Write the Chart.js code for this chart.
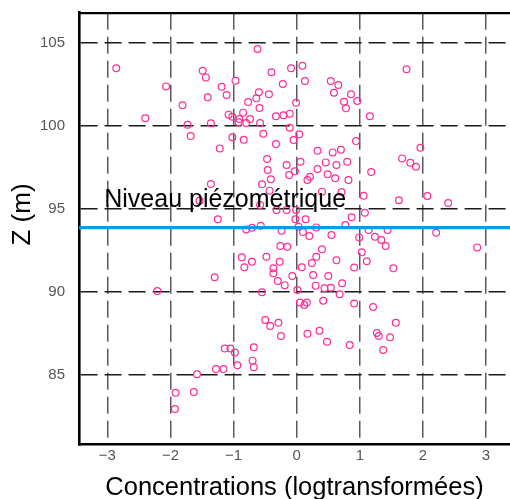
<!DOCTYPE html>
<html lang="fr">
<head>
<meta charset="utf-8">
<title>Z en fonction des concentrations</title>
<script src="https://cdn.jsdelivr.net/npm/chart.js@4/dist/chart.umd.min.js"></script>
<style>
  html, body { margin: 0; padding: 0; background: #fff; }
  #wrap { width: 510px; height: 499px; }
</style>
</head>
<body>
<div id="wrap"><canvas id="chart" width="510" height="499"></canvas></div>
<script>
// Concentrations (log-transformed) of each sample
const concentrations = [
  -2.86, -2.40, -2.07, -1.81, -1.73, -1.68, -1.49, -1.44, -1.41, -1.36,
  -1.22, -1.19, -1.11, -1.08, -1.02, -1.02, -0.97, -0.92, -0.85, -0.84,
  -0.77, -0.74, -1.36, -1.54, -1.25, -0.80, -0.71, -0.62, -0.09, -0.40,
  -0.22, -0.60, -0.44, -0.64, -0.59, -0.01, -0.91, -0.33, -0.21, -0.11,
  -0.80, -0.58, -0.11, -0.53, -0.05, -0.33, -0.47, -0.16, 0.09, 0.13,
  0.54, 0.66, 0.59, 0.86, 0.75, 0.96, 0.78, 1.16, 0.04, 0.94,
  0.33, 0.57, 0.70, 0.06, 0.46, 0.80, 0.63, 1.74, 1.96, 1.67,
  1.80, 1.89, -0.46, -0.03, 1.18, 0.21, 0.17, 0.49, 0.61, 0.82,
  0.33, -0.41, -0.43, 0.40, 0.71, 1.06, 1.62, 2.07, 2.40, 1.08,
  0.87, 0.14, -0.02, -0.57, -0.24, 0.10, 0.31, 0.20, 0.55, 0.77,
  1.14, 1.44, 1.24, 1.34, 0.99, 1.41, 2.21, 2.86, -0.26, -0.15,
  0.40, -0.12, -0.55, -0.58, -0.32, -0.16, -0.01, 0.03, -0.87, -0.48,
  -0.71, -0.83, -0.27, -0.37, -0.37, -1.30, -0.30, -0.19, -0.07, -0.55,
  0.31, 0.24, 0.26, 0.08, 0.63, 1.03, 1.11, 0.91, 0.50, 0.72,
  0.44, 0.30, 0.54, 0.01, 0.05, 0.12, 0.16, 0.42, 0.68, 0.91,
  1.21, 1.53, -0.50, -0.42, -0.29, -0.25, 0.17, 0.36, 0.48, 0.84,
  1.27, 1.30, 1.48, 1.57, 1.37, -1.14, -1.05, -0.98, -0.68, -0.94,
  -0.70, -0.68, -1.28, -1.16, -2.21, -1.58, -1.63, -1.92, -1.93
];

// Elevation Z (m) of each sample, same order
const altitudes = [
  103.45, 100.44, 102.36, 101.22, 100.05, 99.37, 103.30, 102.90, 101.70, 100.14,
  98.63, 102.34, 101.84, 100.66, 100.54, 99.30, 102.70, 100.20, 100.78, 99.15,
  101.42, 100.40, 96.49, 95.48, 94.37, 93.76, 93.86, 104.61, 103.45, 103.21,
  102.50, 102.00, 101.88, 101.64, 101.06, 101.38, 100.40, 100.56, 100.62, 100.72,
  100.16, 100.16, 99.87, 99.51, 99.13, 98.89, 97.99, 97.63, 103.60, 102.68,
  102.68, 102.44, 101.98, 101.88, 101.44, 101.48, 101.04, 100.56, 99.48, 99.07,
  98.49, 98.39, 98.55, 97.83, 97.79, 97.83, 97.63, 103.39, 98.67, 98.03,
  97.77, 97.53, 97.33, 97.25, 97.21, 96.93, 96.73, 97.07, 96.83, 96.73,
  97.39, 96.77, 96.09, 96.03, 96.01, 95.78, 95.51, 95.77, 95.35, 94.76,
  94.49, 94.37, 94.37, 93.98, 93.68, 93.60, 93.88, 93.36, 93.42, 94.02,
  93.72, 93.72, 93.32, 93.12, 93.28, 92.76, 93.56, 92.68, 92.76, 92.72,
  92.56, 97.03, 96.47, 95.23, 94.92, 94.92, 94.92, 93.92, 92.08, 92.12,
  91.82, 91.48, 91.82, 91.42, 91.12, 90.88, 90.66, 90.41, 90.96, 89.98,
  92.12, 91.74, 91.02, 91.48, 91.90, 92.38, 91.85, 91.47, 90.96, 90.52,
  90.22, 90.38, 90.25, 90.11, 89.37, 89.21, 89.37, 89.47, 89.86, 89.31,
  89.09, 91.42, 88.31, 87.95, 88.15, 87.35, 87.49, 87.67, 87.01, 86.81,
  87.53, 87.35, 87.27, 88.15, 86.51, 86.60, 86.60, 86.36, 86.67, 85.59,
  85.87, 85.48, 85.36, 85.36, 90.05, 85.05, 83.98, 83.94, 82.96
];

// Axis ticks
const xTicks = [-3, -2, -1, 0, 1, 2, 3];
const zTicks = [85, 90, 95, 100, 105];

// Water table level (m) and its caption
const niveauPiezo = 93.87;
const niveauLabel = 'Niveau piézométrique';

// Axis extents
const xMin = -3.45, xMax = 3.38;
const zMin = 80.84, zMax = 106.79;

const FONT = '"Liberation Sans", Arial, Helvetica, sans-serif';

const points = concentrations.map((c, i) => ({ x: c, y: altitudes[i] }));

const fmtTick = v => (v < 0 ? '\u2212' + Math.abs(v) : String(v));

// Keep the plot frame fixed: no extra room reserved for edge tick labels
const noEdgePadding = s => {
  s.paddingTop = 0; s.paddingBottom = 0;
  s.paddingLeft = 0; s.paddingRight = 0;
};

// Caption of the water table line and the vertical axis title
const overlayText = {
  id: 'overlayText',
  afterDatasetsDraw(chart) {
    const { ctx, scales: { x, y } } = chart;
    ctx.save();
    ctx.fillStyle = '#000';
    ctx.font = '25px ' + FONT;
    ctx.textAlign = 'left';
    ctx.textBaseline = 'alphabetic';
    ctx.fillText(niveauLabel, x.getPixelForValue(-3.05), y.getPixelForValue(95.11));
    ctx.restore();
  },
  afterDraw(chart) {
    const { ctx, chartArea } = chart;
    ctx.save();
    ctx.translate(22.5, chartArea.top + (chartArea.bottom - chartArea.top) / 2 - 14);
    ctx.rotate(-Math.PI / 2);
    ctx.fillStyle = '#000';
    ctx.font = '26px ' + FONT;
    ctx.textAlign = 'center';
    ctx.textBaseline = 'middle';
    ctx.fillText('Z (m)', 0, 0);
    ctx.restore();
  }
};

new Chart(document.getElementById('chart'), {
  type: 'scatter',
  data: {
    datasets: [
      {
        type: 'line',
        label: niveauLabel,
        data: [{ x: xMin, y: niveauPiezo }, { x: xMax, y: niveauPiezo }],
        borderColor: '#0a9fdc',
        borderWidth: 3.4,
        pointRadius: 0,
        fill: false,
        order: 0
      },
      {
        label: 'Échantillons',
        data: points,
        pointStyle: 'circle',
        pointRadius: 3.4,
        pointBorderWidth: 1.2,
        borderColor: '#ff2d96',
        backgroundColor: 'rgba(0,0,0,0)',
        order: 1
      }
    ]
  },
  options: {
    responsive: false,
    animation: false,
    devicePixelRatio: 1,
    layout: { autoPadding: false, padding: { top: 12.7, left: 0, right: 0, bottom: 0 } },
    plugins: { legend: { display: false }, tooltip: { enabled: false } },
    scales: {
      x: {
        type: 'linear',
        position: 'bottom',
        min: xMin,
        max: xMax,
        afterBuildTicks: s => { s.ticks = xTicks.map(v => ({ value: v })); },
        afterFit: s => { s.height = 54.7; noEdgePadding(s); },
        grid: { color: '#5a5a5a', lineWidth: 1.5, drawTicks: false },
        border: { display: true, color: '#000', width: 2.6, dash: [17, 7] },
        ticks: {
          padding: 3,
          color: '#555',
          font: { family: FONT, size: 15 },
          callback: v => fmtTick(v)
        },
        title: {
          display: true,
          text: 'Concentrations (logtransformées)',
          color: '#000',
          font: { family: FONT, size: 25.5, lineHeight: 0.86 },
          padding: 0
        }
      },
      top: {
        type: 'linear',
        position: 'top',
        min: xMin,
        max: xMax,
        afterFit: s => { s.height = 0; noEdgePadding(s); },
        grid: { display: false },
        border: { display: true, color: '#000', width: 2.2 },
        ticks: { display: false }
      },
      y: {
        type: 'linear',
        position: 'left',
        min: zMin,
        max: zMax,
        afterBuildTicks: s => { s.ticks = zTicks.map(v => ({ value: v })); },
        afterFit: s => { s.width = 79; noEdgePadding(s); },
        grid: { color: '#1a1a1a', lineWidth: 1.5, drawTicks: false },
        border: { display: true, color: '#000', width: 2.6, dash: [17, 7] },
        ticks: {
          padding: 14,
          color: '#555',
          font: { family: FONT, size: 15 },
          callback: v => fmtTick(v)
        }
      }
    }
  },
  plugins: [overlayText]
});
</script>
</body>
</html>
